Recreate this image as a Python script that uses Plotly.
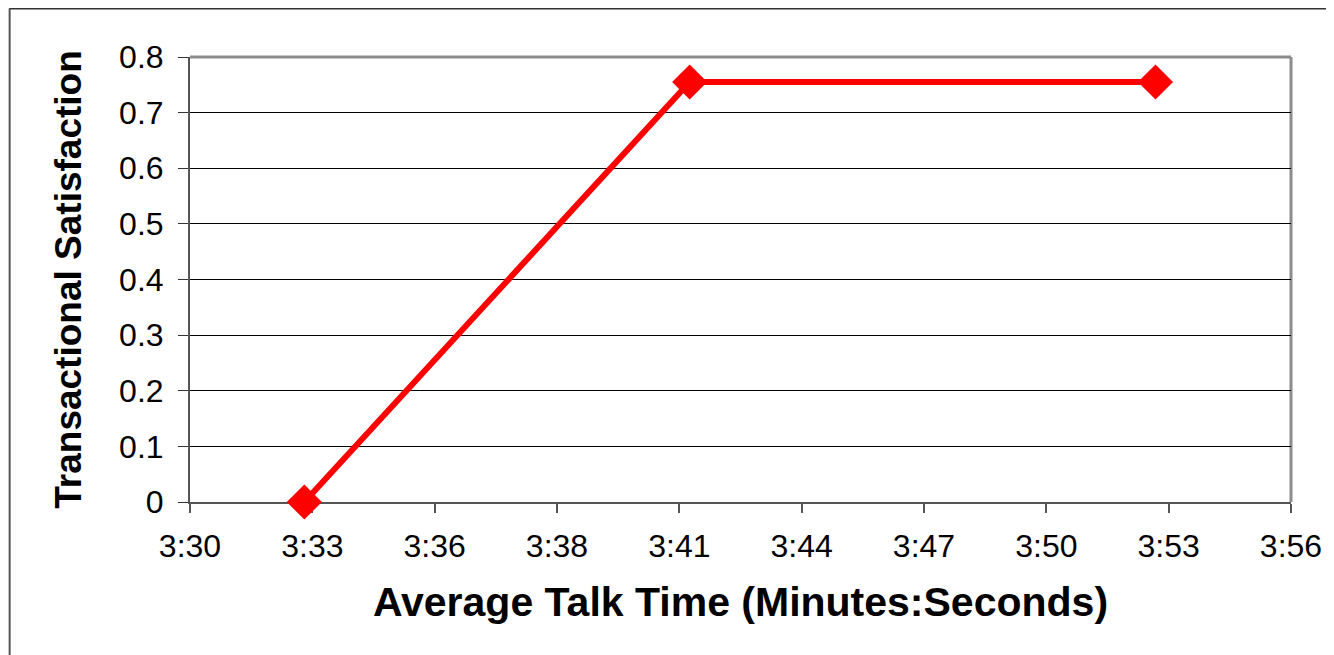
import plotly.graph_objects as go

# Data (average talk time in seconds, transactional satisfaction)
talk_time_sec = [212.7, 221.8, 232.8]
satisfaction = [0.0, 0.755, 0.755]

# Axis tick labels (Excel-style time axis from 3:30 to 3:56, 9 equal steps)
x_tick_labels = ["3:30", "3:33", "3:36", "3:38", "3:41", "3:44", "3:47", "3:50", "3:53", "3:56"]
x_min, x_max = 210.0, 236.0
x_tick_vals = [x_min + i * (x_max - x_min) / (len(x_tick_labels) - 1) for i in range(len(x_tick_labels))]
y_tick_vals = [0, 0.1, 0.2, 0.3, 0.4, 0.5, 0.6, 0.7, 0.8]
y_tick_labels = ["0", "0.1", "0.2", "0.3", "0.4", "0.5", "0.6", "0.7", "0.8"]

FONT = "Liberation Sans, Arial, sans-serif"

fig = go.Figure()
fig.add_trace(go.Scatter(
    x=talk_time_sec, y=satisfaction, mode="lines+markers",
    line=dict(color="#ff0000", width=6),
    marker=dict(symbol="diamond", size=27, color="#ff0000"),
    cliponaxis=False,
    showlegend=False, hoverinfo="skip",
))

# page has an 8px body margin; figure is placed at (8, 8)
W, H = 1326, 647
L, R, T, B = 182, 36, 49, 153

def px_x(p):
    return (p - L) / (W - L - R)

def px_y(p):
    return (H - B - p) / (H - T - B)

fig.update_layout(
    width=W, height=H,
    margin=dict(l=L, r=R, t=T, b=B),
    paper_bgcolor="white", plot_bgcolor="white",
    font=dict(family=FONT, color="black"),
    xaxis=dict(
        range=[x_min, x_max], tickvals=x_tick_vals, ticktext=x_tick_labels,
        tickfont=dict(size=32, family=FONT), ticks="outside", ticklen=9, tickwidth=2,
        tickcolor="#555555", showline=True, linecolor="#555555", linewidth=2,
        showgrid=False, zeroline=False, ticklabelstandoff=6, layer="below traces",
        title=dict(text="<b>Average Talk Time (Minutes:Seconds)</b>",
                   font=dict(size=41, family=FONT), standoff=24),
    ),
    yaxis=dict(
        range=[0, 0.8], tickvals=y_tick_vals, ticktext=y_tick_labels,
        tickfont=dict(size=32, family=FONT), ticks="outside", ticklen=10, tickwidth=1,
        tickcolor="#333333", showline=True, linecolor="#555555", linewidth=2,
        showgrid=True, gridcolor="black", gridwidth=1, zeroline=False,
        ticklabelstandoff=8, layer="below traces",
        title=dict(text="<b>Transactional Satisfaction</b>",
                   font=dict(size=37, family=FONT), standoff=26),
    ),
    shapes=[
        # outer frame lines of the slide
        dict(type="line", xref="paper", yref="paper", x0=px_x(0), x1=px_x(W), y0=px_y(0.5), y1=px_y(0.5),
             line=dict(color="#333333", width=2)),
        dict(type="line", xref="paper", yref="paper", x0=px_x(0.5), x1=px_x(0.5), y0=px_y(H), y1=px_y(0.5),
             line=dict(color="#555555", width=2)),
        # plot area border (top and right)
        dict(type="line", xref="paper", yref="paper", x0=0, x1=1, y0=1, y1=1,
             line=dict(color="#8c8c8c", width=3), layer="below"),
        dict(type="line", xref="paper", yref="paper", x0=1, x1=1, y0=0, y1=1,
             line=dict(color="#8c8c8c", width=3), layer="below"),
    ],
)

fig.write_html("out.html")
